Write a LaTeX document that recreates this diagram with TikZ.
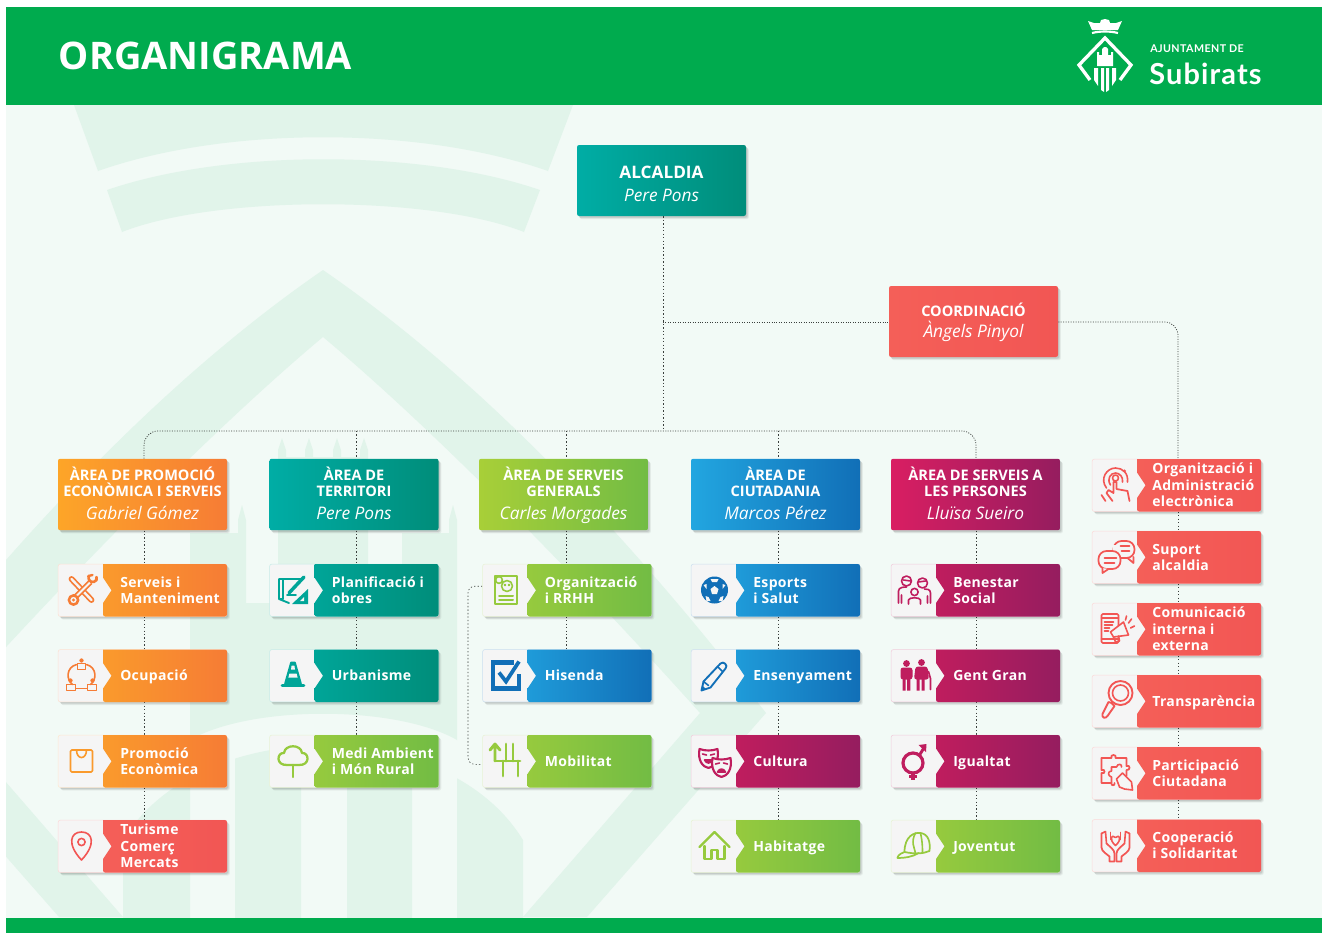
\documentclass[tikz,border=0pt]{standalone}
\usepackage{fontspec}
\setmainfont{Open Sans}
\newfontfamily\cardf[LetterSpace=2.5]{Open Sans}
\newfontfamily\logof[LetterSpace=4]{Lato}
\usetikzlibrary{shadows,backgrounds}
\pgfdeclarelayer{wmlayer}
\pgfdeclarelayer{connlayer}
\pgfsetlayers{wmlayer,connlayer,main}
\definecolor{hdr}{HTML}{00AB4E}
\definecolor{bgc}{HTML}{F2FAF6}
\definecolor{wmc}{HTML}{E1F4EA}
\definecolor{panel}{HTML}{F5F5F5}
\definecolor{ora1}{HTML}{FDA528}\definecolor{ora2}{HTML}{F67C35}\definecolor{oraC}{HTML}{FA9A2C}
\definecolor{tea1}{HTML}{00ADA5}\definecolor{tea2}{HTML}{008D7A}\definecolor{teaC}{HTML}{00A598}
\definecolor{gre1}{HTML}{A8CF38}\definecolor{gre2}{HTML}{72BC44}\definecolor{greC}{HTML}{96CA3E}
\definecolor{blu1}{HTML}{22A6E0}\definecolor{blu2}{HTML}{116FB7}\definecolor{bluC}{HTML}{1F9BD9}
\definecolor{mag1}{HTML}{D91E62}\definecolor{mag2}{HTML}{951D5F}\definecolor{magC}{HTML}{BF1D5E}
\definecolor{red1}{HTML}{F45F58}\definecolor{red2}{HTML}{F25654}
\definecolor{dotc}{HTML}{3A3F3C}
\colorlet{ic}{black}
\tikzset{
  softshad/.style={
    general shadow={shadow xshift=2.2pt,shadow yshift=-2.4pt,fill=black,opacity=.05},
    general shadow={shadow xshift=1.6pt,shadow yshift=-1.8pt,fill=black,opacity=.07},
    general shadow={shadow xshift=1pt,shadow yshift=-1.2pt,fill=black,opacity=.08}},
  bigbox/.style={softshad,rounded corners=1.6pt,minimum width=126.75pt,minimum height=#1,inner sep=0pt,text=white,align=center},
  cardbase/.style={softshad,rounded corners=1.6pt,fill=panel,draw=ic!22,line width=.4pt,minimum width=126.5pt,minimum height=39.2pt,inner sep=0pt},
  cardtxt/.style={anchor=west,text=white,align=left,inner sep=0pt,font=\cardf\bfseries\fontsize{10.5}{12.2}\selectfont},
  dotline/.style={draw=dotc,line width=.55pt,dash pattern=on .75pt off 1.1pt},
  thinline/.style={draw=dotc,line width=.45pt,dash pattern=on 1pt off 1.6pt},
  i/.style={draw=ic,line width=1.2pt,line join=round,line cap=round},
  ib/.style={draw=ic,line width=1.9pt,line join=round,line cap=round},
  ia/.style={fill=ic}
}
% icon library (origin at icon centre, unit 1px, y downwards)
\newcommand{\icTools}{
  \draw[ic,line width=4.4pt,line cap=round] (-10,-11)--(10,10);
  \draw[panel,line width=1.8pt,line cap=round] (-10,-11)--(10,10);
  \draw[ic,line width=4pt] (9,-8)--(-7,8);
  \draw[panel,line width=1.5pt] (9,-8)--(-7,8);
  \draw[i,line width=1.9pt,fill=panel] (-8,10) circle (4.6);
  \fill[ic] (-8,10) circle (1.6);
  \draw[i,line width=2pt] (7,-14) .. controls (6,-8) and (12,-6) .. (15,-10);
  \draw[i,line width=1.8pt] (7,-14) -- (11,-15);
  \draw[i,line width=1.8pt] (15,-10) -- (15,-13);
}
\newcommand{\icOcu}{
  \draw[i] (-5,-11) .. controls (-16,-8) and (-15,5) .. (-9,9);
  \draw[i] (5,-11) .. controls (16,-8) and (15,5) .. (9,9);
  \draw[i] (-5,13) -- (5,13);
  \draw[i,fill=ic] (0,-15) circle (1.6);
  \draw[i] (-4,-12) rectangle (4,-6);
  \draw[i,fill=ic] (-11,5) circle (1.6);
  \draw[i] (-15,9) rectangle (-6,15);
  \draw[i,fill=ic] (11,5) circle (1.6);
  \draw[i] (6,9) rectangle (15,15);
}
\newcommand{\icBag}{
  \draw[i,rounded corners=1pt] (-11,-11) rectangle (11,11);
  \draw[i] (-5,-11) .. controls (-5,-1) and (5,-1) .. (5,-11);
}
\newcommand{\icPin}{
  \draw[i] (0,14) .. controls (-15,-2) and (-11,-14) .. (0,-14) .. controls (11,-14) and (15,-2) .. (0,14) -- cycle;
  \draw[i] (0,-4) circle (3.6);
}
\newcommand{\icPlan}{
  \draw[i,line width=1.4pt] (-14,-11) -- (8,-11) (-14,-11) -- (-14,9) -- (-4,13) (-10,-11) -- (-10,9) -- (-14,9);
  \draw[ib,line width=2.6pt] (-4,3) -- (11,-13);
  \draw[i,line width=1.4pt] (-6,5) -- (3,5);
  \fill[ic] (15,-1) -- (15,14) -- (-1,14) -- cycle;
  \fill[panel] (11,7) -- (11,11) -- (7,11) -- cycle;
}
\newcommand{\icCone}{
  \draw[i,fill=ic] (-2,-13) -- (2,-13) -- (8,8) -- (-8,8) -- cycle;
  \fill[panel] (-3.6,-2) -- (3.6,-2) -- (4.6,2) -- (-4.6,2) -- cycle;
  \fill[panel] (-1.4,-10) -- (1.4,-10) -- (2,-6) -- (-2,-6) -- cycle;
  \draw[ib] (-11,10) -- (11,10);
}
\newcommand{\icTree}{
  \draw[i,line width=1.7pt] (-5,4) .. controls (-18,5) and (-16,-9) .. (-9,-8) .. controls (-8,-17) and (8,-17) .. (9,-8) .. controls (16,-9) and (18,5) .. (5,4) -- cycle;
  \draw[i,line width=1.7pt] (0,4) -- (0,16);
}
\newcommand{\icDoc}{
  \draw[i,line width=1.5pt] (-11,-14) rectangle (11,14);
  \draw[i] (1,-4) circle (5.5) (-7,-10) circle (3.4) (-1,-5) circle (.6) (3,-5) circle (.6);
  \draw[i,line width=1.5pt] (-7,6) -- (7,6) (-7,10) -- (7,10);
}
\newcommand{\icCheck}{
  \draw[ic,line width=3.6pt] (8,-13) -- (-13,-13) -- (-13,13) -- (13,13) -- (13,-2);
  \draw[ic,line width=2.8pt] (-7,-3) -- (0,6) -- (13,-14);
}
\newcommand{\icMob}{
  \draw[ib,line width=2.2pt] (-11,0) -- (-11,-17) (-16,-11) -- (-11,-17) -- (-6,-11);
  \draw[ib,line width=2.2pt] (-11,0) -- (14,0);
  \draw[ib,line width=2.2pt] (0,-17) -- (0,0) (7,-17) -- (7,0);
  \draw[ib,line width=2.2pt] (-3,0) -- (-3,15) (12,0) -- (12,15);
}
\newcommand{\icBall}{
  \fill[ic] (0,0) circle (13.5);
  \fill[panel] (0,-4) -- (4,-1) -- (2.5,4) -- (-2.5,4) -- (-4,-1) -- cycle;
  \fill[panel] (-4,-11) -- (4,-11) -- (2.5,-8) -- (-2.5,-8) -- cycle;
  \fill[panel] (11,-5) -- (8,-1) -- (8,-6) -- cycle;
  \fill[panel] (-11,-5) -- (-8,-1) -- (-8,-6) -- cycle;
  \fill[panel] (6,7) -- (9,6) -- (8,11) -- (4,11) -- cycle;
  \fill[panel] (-6,7) -- (-9,6) -- (-8,11) -- (-4,11) -- cycle;
}
\newcommand{\icPencil}{
  \draw[i,line width=1.4pt] (-13,15) -- (-11,6) -- (6,-12) .. controls (9,-15) and (14,-10) .. (11,-7) -- (-4,12) -- cycle;
  \draw[i] (3,-9) -- (8,-4) (-11,6) -- (-6,10);
  \fill[ic] (-13,15) -- (-12,10) -- (-8,14) -- cycle;
}
\newcommand{\icMask}[1]{
  \begin{scope}[shift={#1}]
   \draw[i,line width=1.6pt,fill=panel] (-9,-8) .. controls (-3,-6) and (3,-6) .. (9,-8) .. controls (11,3) and (6,10) .. (0,11) .. controls (-6,10) and (-11,3) .. (-9,-8) -- cycle;
   \draw[i] (-6,-3) -- (-2,-2) (6,-3) -- (2,-2);
   \draw[i,fill=ic] (-4,3) .. controls (-2,7) and (2,7) .. (4,3) -- cycle;
  \end{scope}}
\newcommand{\icMaskB}[1]{
  \begin{scope}[shift={#1}]
   \draw[i,line width=1.6pt,fill=panel] (-9,-8) .. controls (-3,-6) and (3,-6) .. (9,-8) .. controls (11,3) and (6,10) .. (0,11) .. controls (-6,10) and (-11,3) .. (-9,-8) -- cycle;
   \draw[i] (-6,-2) -- (-2,-3) (6,-2) -- (2,-3);
   \draw[i,fill=ic] (-4,6) .. controls (-2,2) and (2,2) .. (4,6) -- cycle;
  \end{scope}}
\newcommand{\icMasks}{\icMask{(-6,-4)}\icMaskB{(7,5)}}
\newcommand{\icHouse}{
  \draw[i,line width=1.8pt] (-15,1) -- (-9,-5) -- (0,-14) -- (15,1);
  \draw[i,line width=1.8pt] (-10,0) -- (-10,13) -- (-3,13) -- (-3,4) -- (3,4) -- (3,13) -- (10,13) -- (10,0);
}
\newcommand{\icFamily}{
  \draw[i] (-8,-9) circle (5) (8,-7) circle (5) (0,2) circle (3.6);
  \draw[i] (-16,13) -- (-16,1) .. controls (-16,-3) and (-10,-3) .. (-8,-3) (-13,13) -- (-13,5);
  \draw[i] (16,13) -- (16,3) .. controls (16,-1) and (12,-1) .. (10,-1) (13,13) -- (13,6);
  \draw[i] (-6,14) -- (-6,10) .. controls (-6,7) and (6,7) .. (6,10) -- (6,14);
  \draw[i] (-4,-9) -- (-11,-10) (4,-8) -- (11,-9);
}
\newcommand{\icElder}{
  \fill[ic] (-8,-12) circle (3.4) (7,-13) circle (3.4);
  \fill[ic,rounded corners=2pt] (-14,-8) rectangle (-2,4);
  \fill[ic] (-12,3) rectangle (-8.8,15) (-7.4,3) rectangle (-4.2,15);
  \fill[ic,rounded corners=2pt] (1,-9) -- (13,-9) -- (14.5,4) -- (-.5,4) -- cycle;
  \fill[ic] (2,3) rectangle (5.2,15) (7,3) rectangle (10.2,15);
  \draw[ib,line width=1.2pt] (14,-4) -- (16,3) -- (16,14);
}
\newcommand{\icGender}{
  \draw[ic,line width=2.4pt] (-1.5,2) circle (10);
  \draw[ic,line width=2.4pt] (-1.5,12) -- (-1.5,19) (-5.5,15.5) -- (2.5,15.5);
  \draw[ic,line width=2.2pt] (5,-6) -- (10,-14);
  \fill[ic] (12,-17) -- (4,-16) -- (11.5,-9) -- cycle;
}
\newcommand{\icCap}{
  \draw[i,line width=1.3pt] (-10,6) .. controls (-10,-10) and (0,-14) .. (6,-13) .. controls (14,-12) and (16,-4) .. (15,5) .. controls (8,8) and (0,8) .. (-10,6) -- cycle;
  \draw[i,line width=1.3pt] (-10,6) .. controls (-16,8) and (-17,11) .. (-17,12) .. controls (-10,12) and (-2,11) .. (4,7);
  \draw[i] (1,-13) .. controls (-4,-4) and (0,2) .. (1,7) (6,-13) .. controls (8,-4) and (8,2) .. (8,7);
}
\newcommand{\icTouch}{
  \draw[i] (-9,3) .. controls (-16,-6) and (-9,-17) .. (0,-17) .. controls (7,-17) and (13,-12) .. (12,-3);
  \draw[i] (-5,0) .. controls (-9,-6) and (-5,-12) .. (0,-12) .. controls (4,-12) and (8,-8) .. (7,-3);
  \draw[i] (0,-7) circle (3);
  \fill[ic] (9,-14) circle (1.6);
  \draw[i,line width=1.3pt] (-2,-3) -- (-2,8) -- (-7,5) -- (-9,8) -- (-3,16) (-2,-3) -- (1,-3) -- (1,4) -- (12,6) -- (14,16) (-10,16) -- (-14,10);
}
\newcommand{\icChat}{
  \draw[i,line width=1.3pt,rounded corners=6pt] (-2,-16) rectangle (19,1);
  \fill[panel] (-3,-12) rectangle (5,2);
  \draw[i,line width=1.3pt] (18,0) -- (18,6) -- (12,1);
  \draw[i,line width=1.3pt,rounded corners=6pt,fill=panel] (-17,-6) rectangle (5,12);
  \draw[i,line width=1.3pt,fill=panel] (-13,11) -- (-13,16) -- (-7,12);
  \draw[i] (-11,1) -- (1,1) (-11,6) -- (-1,6) (5,-11) -- (14,-11) (6,-6) -- (14,-6);
}
\newcommand{\icPhone}{
  \draw[i,rounded corners=1pt] (-14,-15) rectangle (3,14);
  \draw[i] (-14,-11) -- (3,-11) (-14,10) -- (3,10);
  \draw[i] (-11,-7) -- (-2,-7) (-11,-4) -- (-3,-4) (-11,-1) -- (-6,-1) (-11,2) -- (-7,2);
  \draw[i,fill=panel] (-5,3) -- (8,-7) -- (13,6) -- (-2,8) -- cycle;
  \draw[i] (-2,8) -- (0,13) -- (4,12) -- (3,7);
  \draw[i] (13,-6) -- (16,-10) (15,-1) -- (19,-3) (10,-9) -- (11,-13);
}
\newcommand{\icLens}{
  \draw[i,line width=1.4pt] (5,-8) circle (12);
  \draw[i] (5,-8) circle (8);
  \draw[i,line width=1.4pt] (-4,2) -- (-7,1) -- (-13,13) .. controls (-14,17) and (-10,18) .. (-8,15) -- (-1,5) -- cycle;
}
\newcommand{\icPuzzle}{
  \draw[i,line width=1.3pt] (-14,-15) -- (-4,-15) .. controls (-6,-19) and (2,-19) .. (0,-15) -- (11,-15) -- (11,-7) .. controls (15,-9) and (15,-2) .. (11,-3) -- (11,3);
  \draw[i,line width=1.3pt] (-14,-15) -- (-14,-3) .. controls (-10,-5) and (-10,2) .. (-14,0) -- (-14,10) -- (-4,10) .. controls (-5,13) and (0,13) .. (-1,10);
  \draw[i] (-4,10) -- (-4,4) .. controls (-8,3) and (-8,-2) .. (-4,-2) -- (-4,-6) -- (1,-6) .. controls (2,-10) and (7,-9) .. (6,-6);
  \draw[i,fill=panel] (1,6) -- (7,0) -- (16,9) -- (17,17) -- (9,16) -- (4,14) -- cycle;
}
\newcommand{\icHands}{
  \draw[i,line width=1.3pt] (-14,-12) -- (-14,2) .. controls (-14,6) and (-8,9) .. (-6,11) -- (-6,16) -- (-1,16) -- (-1,8) .. controls (-1,4) and (-6,1) .. (-9,-2);
  \draw[i,line width=1.3pt] (14,-12) -- (14,2) .. controls (14,6) and (8,9) .. (6,11) -- (6,16) -- (1,16) -- (1,8) .. controls (1,4) and (6,1) .. (9,-2);
  \draw[i] (-14,-12) -- (-10,-14) -- (-9,-2) (14,-12) -- (10,-14) -- (9,-2);
  \draw[i] (-5,-13) -- (-5,-6) (5,-13) -- (5,-6);
  \draw[i,fill=panel] (0,0) .. controls (-7,-6) and (-4,-12) .. (0,-8) .. controls (4,-12) and (7,-6) .. (0,0) -- cycle;
}
% card: name, x, y, start colour, end colour, icon colour, text, icon
\def\txo{62}
\newcommand{\card}[8]{%
  \begin{scope}[shift={(#2,#3)}]
    \colorlet{ic}{#6}
    \node[cardbase] (#1) at (84.5,26.25) {};
    \shade[left color=#4,right color=#5,rounded corners=1.6pt]
      (45,0) -- (169,0) -- (169,52.5) -- (45,52.5) [sharp corners] -- (45,39) -- (53.5,26.25) -- (45,13.5) -- cycle;
    \begin{scope}[shift={(23.5,26)}] #8 \end{scope}
    \node[cardtxt] (#1t) at (\txo,26.8) {\rule{0pt}{9.5pt}#7\rule[-3pt]{0pt}{1pt}};
  \end{scope}}
\newcommand{\threel}{\fontsize{10.5}{11.7}\selectfont}
\newcommand{\tlf}[1]{{\bfseries\fontsize{10.9}{12.3}\selectfont\rule{0pt}{12pt}#1}}
\newcommand{\tl}[1]{{\bfseries\fontsize{10.9}{12.3}\selectfont #1}}
\newcommand{\nm}[1]{{\itshape\fontsize{13}{14}\selectfont #1\rule[-3.4pt]{0pt}{1pt}}}
\begin{document}
\begin{tikzpicture}[x=.75pt,y=-.75pt]
\useasboundingbox (0,0) rectangle (1322,933);
% ---- nodes ----
\node[bigbox=53.25pt,left color=tea1,right color=tea2] (alc) at (661.5,180.5) {{\bfseries\fontsize{12.9}{15}\selectfont\rule{0pt}{14pt}ALCALDIA}\\[5pt]{\itshape\fontsize{12.9}{15}\selectfont Pere Pons}};
\node[bigbox=53.25pt,left color=red1,right color=red2] (coo) at (973.5,321.5) {{\bfseries\fontsize{10.9}{13}\selectfont\rule{0pt}{11.8pt}COORDINACIÓ}\\[2.3pt]{\itshape\fontsize{13}{15}\selectfont Àngels Pinyol}};
\node[bigbox=53.6pt,left color=ora1,right color=ora2] (a1) at (142.5,494.5) {\tlf{ÀREA DE PROMOCIÓ}\\\tl{ECONÒMICA I SERVEIS}\\[5pt]\nm{Gabriel Gómez}};
\node[bigbox=53.6pt,left color=tea1,right color=tea2] (a2) at (354,494.5) {\tlf{ÀREA DE}\\\tl{TERRITORI}\\[5pt]\nm{Pere Pons}};
\node[bigbox=53.6pt,left color=gre1,right color=gre2] (a3) at (563.5,494.5) {\tlf{ÀREA DE SERVEIS}\\\tl{GENERALS}\\[5pt]\nm{Carles Morgades}};
\node[bigbox=53.6pt,left color=blu1,right color=blu2] (a4) at (775.5,494.5) {\tlf{ÀREA DE}\\\tl{CIUTADANIA}\\[5pt]\nm{Marcos Pérez}};
\node[bigbox=53.6pt,left color=mag1,right color=mag2] (a5) at (975.5,494.5) {\tlf{ÀREA DE SERVEIS A}\\\tl{LES PERSONES}\\[5pt]\nm{Lluïsa Sueiro}};
% column 1
\card{c11}{58}{564}{oraC}{ora2}{ora2}{Serveis i\\Manteniment}{\icTools}
\card{c12}{58}{649.5}{oraC}{ora2}{ora2}{Ocupació}{\icOcu}
\card{c13}{58}{735}{oraC}{ora2}{oraC}{Promoció\\Econòmica}{\icBag}
\card{c14}{58}{820}{red1}{red2}{red2}{\threel Turisme\\Comerç\\Mercats}{\icPin}
% column 2
\card{c21}{269.5}{564}{teaC}{tea2}{teaC}{Planificació i\\obres}{\icPlan}
\card{c22}{269.5}{649.5}{teaC}{tea2}{teaC}{Urbanisme}{\icCone}
\card{c23}{269.5}{735}{greC}{gre2}{greC}{Medi Ambient\\i Món Rural}{\icTree}
% column 3
\card{c31}{482.5}{564}{greC}{gre2}{greC}{Organització\\i RRHH}{\icDoc}
\card{c32}{482.5}{649.5}{bluC}{blu2}{blu2}{Hisenda}{\icCheck}
\card{c33}{482.5}{735}{greC}{gre2}{greC}{Mobilitat}{\icMob}
% column 4
\card{c41}{691}{564}{bluC}{blu2}{blu2}{Esports\\i Salut}{\icBall}
\card{c42}{691}{649.5}{bluC}{blu2}{blu2}{Ensenyament}{\icPencil}
\card{c43}{691}{735}{magC}{mag2}{magC}{Cultura}{\icMasks}
\card{c44}{691}{820}{greC}{gre2}{greC}{Habitatge}{\icHouse}
% column 5
\card{c51}{891}{564}{magC}{mag2}{magC}{Benestar\\Social}{\icFamily}
\card{c52}{891}{649.5}{magC}{mag2}{magC}{Gent Gran}{\icElder}
\card{c53}{891}{735}{magC}{mag2}{magC}{Igualtat}{\icGender}
\card{c54}{891}{820}{greC}{gre2}{greC}{Joventut}{\icCap}
% column 6
\def\txo{60}
\card{c61}{1092}{459}{red1}{red2}{red2}{\threel Organització i\\Administració\\electrònica}{\icTouch}
\card{c62}{1092}{531}{red1}{red2}{red2}{Suport\\alcaldia}{\icChat}
\card{c63}{1092}{603}{red1}{red2}{red2}{\threel Comunicació\\interna i\\externa}{\icPhone}
\card{c64}{1092}{675}{red1}{red2}{red2}{Transparència}{\icLens}
\card{c65}{1092}{747}{red1}{red2}{red2}{Participació\\Ciutadana}{\icPuzzle}
\card{c66}{1092}{819.5}{red1}{red2}{red2}{Cooperació\\i Solidaritat}{\icHands}
% ---- route coordinates ----
\coordinate (xa) at (663,431);
\coordinate (jc) at (663,322);
\coordinate (l1) at (144,431);
\coordinate (l2) at (356,431);
\coordinate (l3) at (566,431);
\coordinate (l4) at (778,431);
\coordinate (l5) at (976,431);
\coordinate (l6) at (1178,322);
\coordinate (s3) at (468,0);
\coordinate (s31) at ([yshift=3pt]c31.west);
\coordinate (s33) at ([yshift=-2.3pt]c33.west);
% ---- background and connectors ----
\begin{pgfonlayer}{wmlayer}
  \fill[white] (0,0) rectangle (1322,933);
  \fill[bgc] (6,7) rectangle (1322,933);
  \begin{scope}
    \clip (6,105) rectangle (1322,918);
    \fill[wmc] (74,105) -- (573,105) -- (548,171) .. controls (420,126) and (226,126) .. (98,171) -- cycle;
    \fill[wmc] (107,190) .. controls (226,149) and (421,149) .. (540,190) -- (524,232) .. controls (430,195) and (216,195) .. (122,232) -- cycle;
    \fill[wmc] (323,270) .. controls (490,385) and (640,550) .. (766,713) -- (587,917) -- (523,917) -- (700,713)
       .. controls (590,590) and (440,435) .. (323,337) .. controls (206,435) and (56,590) .. (-54,713) -- (123,917) -- (59,917) -- (-120,713)
       .. controls (6,550) and (156,385) .. (323,270) -- cycle;
    % castle
    \fill[wmc] (190,533) -- (238,533) -- (238,520) -- (242,505) -- (246,520) -- (246,603) -- (278,603) -- (278,457)
       -- (278,450) -- (282,438) -- (286,450) -- (286,457) -- (305,457) -- (305,450) -- (309,438) -- (313,450) -- (313,457)
       -- (333,457) -- (333,450) -- (337,438) -- (341,450) -- (341,457) -- (360,457) -- (360,450) -- (364,438) -- (368,450) -- (368,603)
       -- (402,603) -- (402,533) -- (449,533) -- (449,520) -- (453,505) -- (457,520) -- (457,740)
       .. controls (396,705) and (250,705) .. (190,740) -- cycle;
    % stripes
    \begin{scope}
      \clip (123,840) .. controls (200,714) and (446,714) .. (523,840) -- (523,920) -- (123,920) -- cycle;
      \fill[wmc] (123,700) rectangle (190,920) (235,700) rectangle (301,920) (347,700) rectangle (412,920) (457,700) rectangle (523,920);
    \end{scope}
  \end{scope}
  \fill[hdr] (6,7) rectangle (1322,105);
  \fill[hdr] (6,918) rectangle (1322,933);
\end{pgfonlayer}
\begin{pgfonlayer}{connlayer}
  \draw[thinline] (alc.south -| xa) -- (xa);
  \draw[dotline] (jc) -- (coo.west |- jc);
  \draw[dotline,rounded corners=10pt] (coo.east |- jc) -- (l6) -- (c61.north -| l6);
  \draw[dotline,rounded corners=10.5pt] (a1.north -| l1) -- (l1) -- (l5) -- (a5.north -| l5);
  \draw[thinline] (l2) -- (a2.north -| l2);
  \draw[thinline] (l3) -- (a3.north -| l3);
  \draw[thinline] (l4) -- (a4.north -| l4);
  \foreach \lx/\up/\dn in {l1/a1/c11,l1/c11/c12,l1/c12/c13,l1/c13/c14,
                           l2/a2/c21,l2/c21/c22,l2/c22/c23,
                           l3/a3/c31,l3/c31/c32,
                           l4/a4/c41,l4/c41/c42,l4/c42/c43,l4/c43/c44,
                           l5/a5/c51,l5/c51/c52,l5/c52/c53,l5/c53/c54}
    \draw[thinline] (\up.south -| \lx) -- (\dn.north -| \lx);
  \foreach \up/\dn in {c61/c62,c62/c63,c63/c64,c64/c65,c65/c66}
    \draw[thinline] (\up.south -| l6) -- (\dn.north -| l6);
  \draw[thinline,rounded corners=5pt] (s31) -- (s3 |- s31) -- (s3 |- s33) -- (s33);
\end{pgfonlayer}
% ---- header ----
\node[anchor=west,text=white,inner sep=0pt,font=\bfseries\fontsize{28.5}{30}\selectfont] (title) at (58.5,55.5) {ORGANIGRAMA};
\node[anchor=west,text=white,inner sep=0pt,font=\logof\bfseries\fontsize{8}{10}\selectfont] (lg1) at (1150,48.5) {AJUNTAMENT DE};
\node[anchor=west,text=white,inner sep=0pt,font=\logof\bfseries\fontsize{21.7}{26}\selectfont] (lg2) at (1149,74) {Subirats};
% logo emblem
\fill[white] (1088,21) -- (1094,23) -- (1100,23) -- (1101,20) -- (1105,19) -- (1109,20) -- (1110,23) -- (1116,23) -- (1122,21) -- (1118,30) -- (1092,30) -- cycle;
\draw[white,line width=1.6pt] (1092,33) .. controls (1100,31) and (1110,31) .. (1118,33);
\draw[white,line width=2.5pt,line join=miter] (1090,80) -- (1079,65) -- (1105,38) -- (1131,65) -- (1120,80);
\fill[white] (1097,59) -- (1097,52) -- (1099,52) -- (1099,55) -- (1102,55) -- (1102,49) -- (1104,47) -- (1106,47) -- (1108,49) -- (1108,55) -- (1111,55) -- (1111,52) -- (1113,52) -- (1113,66) -- (1097,66) -- cycle;
\fill[white] (1094,68) -- (1098,68) -- (1098,86) -- (1094,80) -- cycle
  (1101,68) -- (1104,68) -- (1104,92) -- (1101,90) -- cycle
  (1106,68) -- (1109,68) -- (1109,90) -- (1106,92) -- cycle
  (1112,68) -- (1116,68) -- (1116,80) -- (1112,86) -- cycle;
\end{tikzpicture}
\end{document}
